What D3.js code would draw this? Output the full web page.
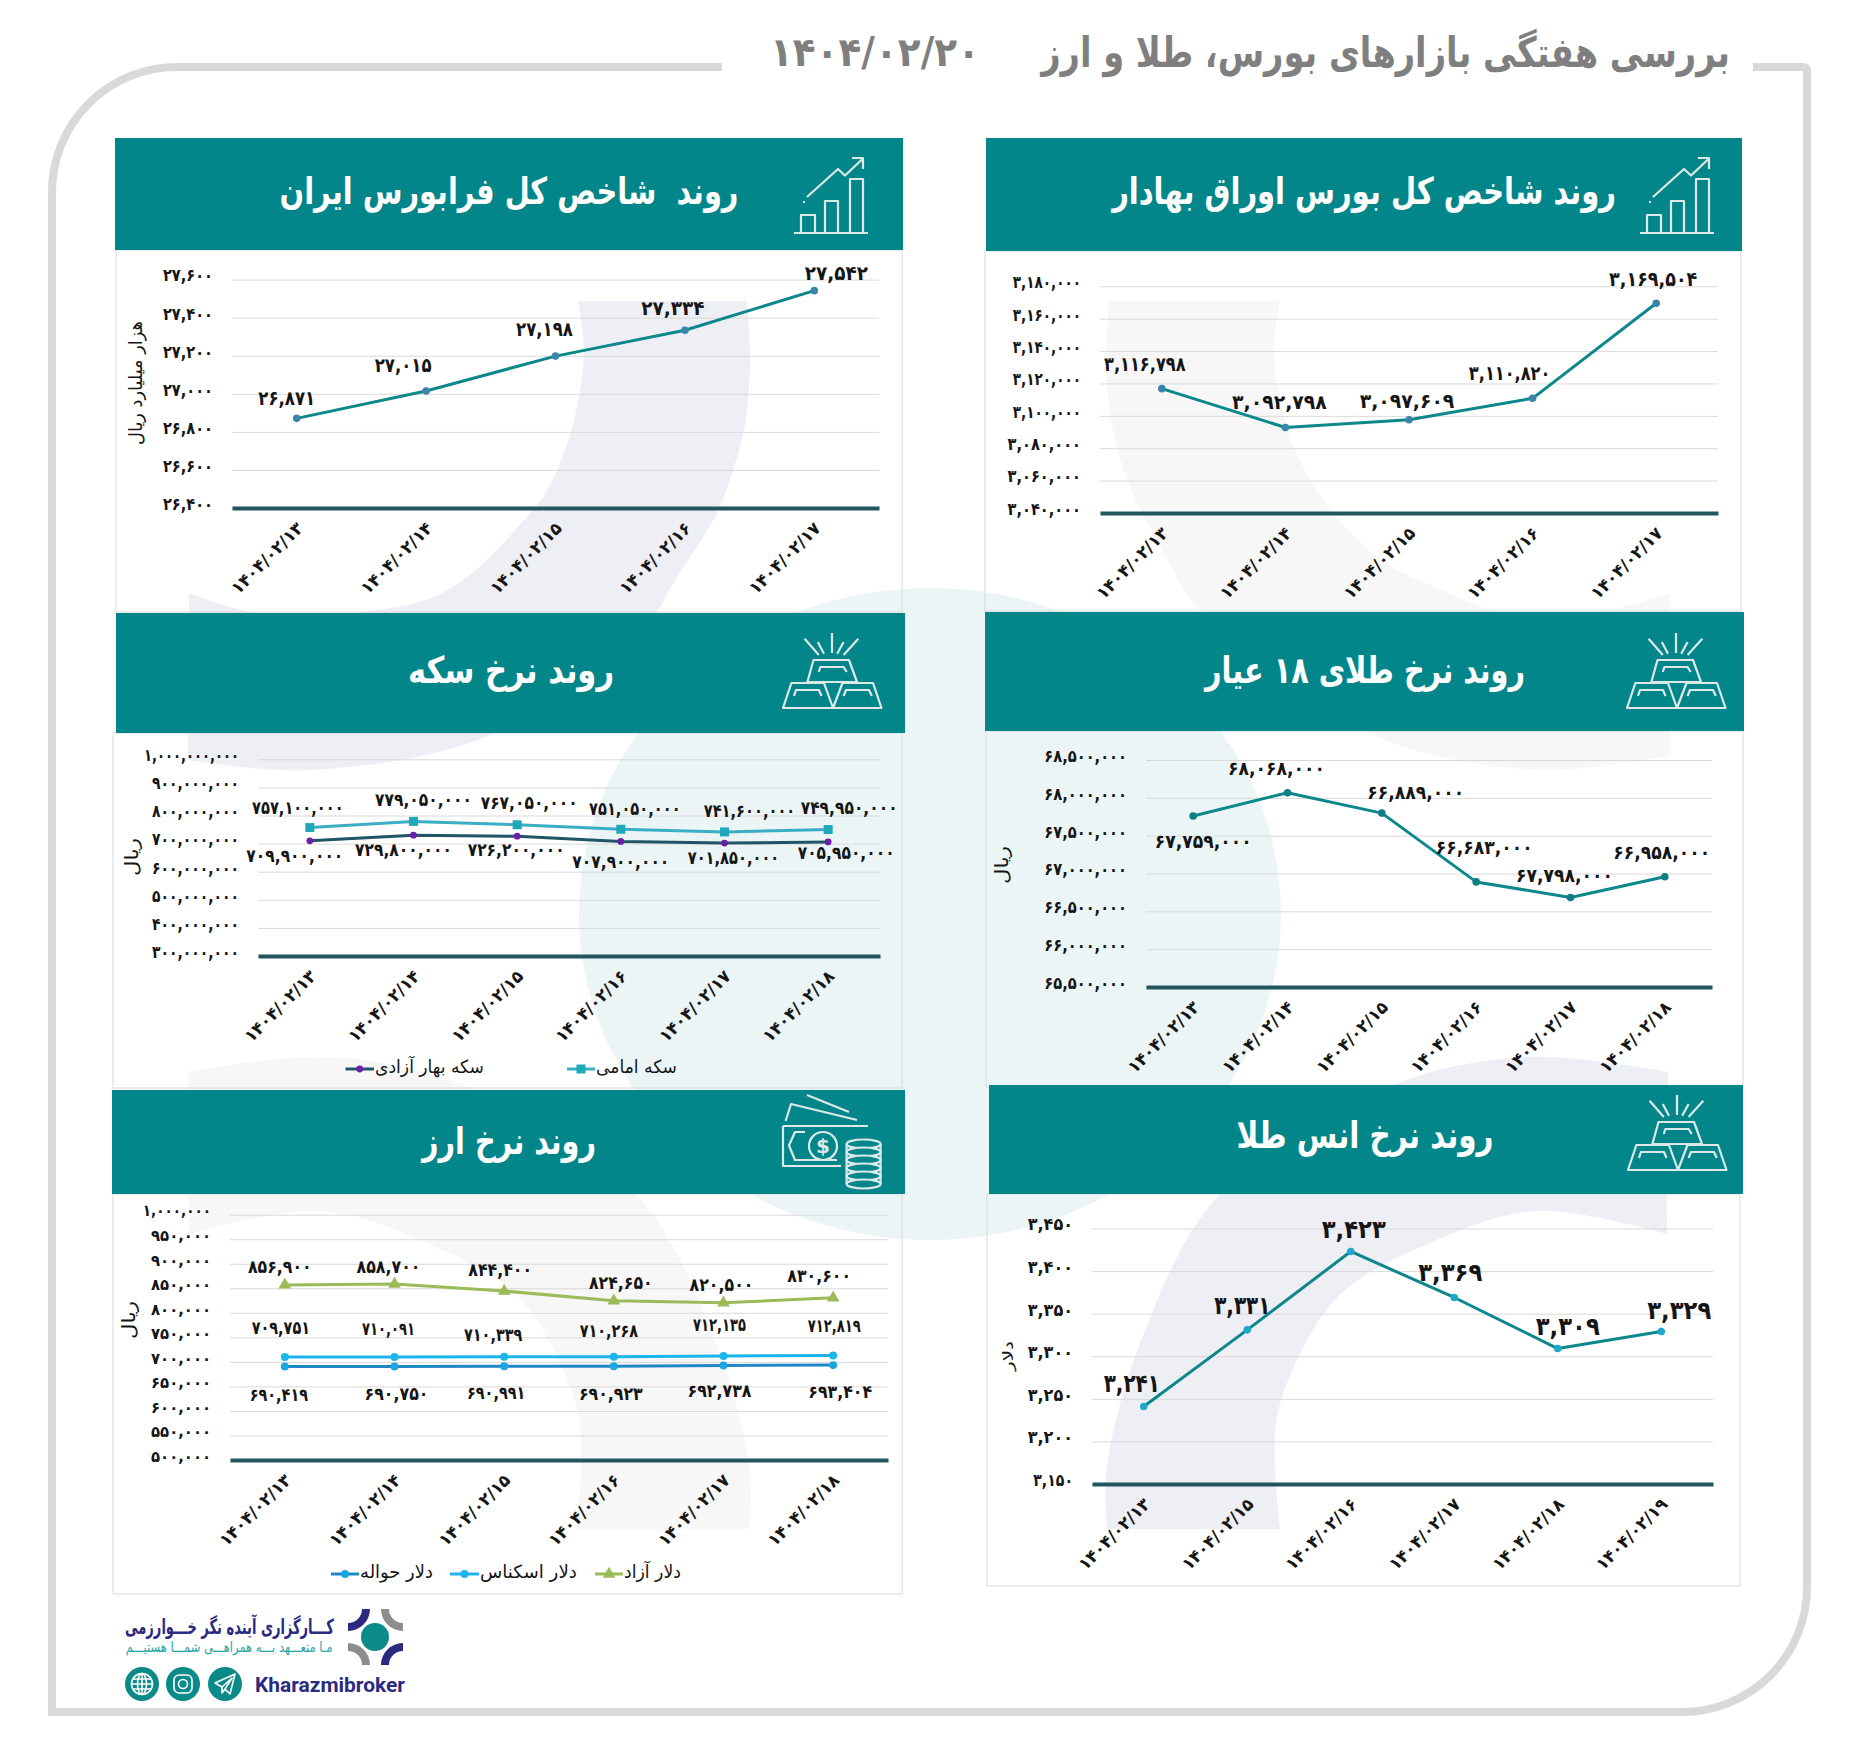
<!DOCTYPE html>
<html lang="fa"><head><meta charset="utf-8">
<script src="https://cdn.jsdelivr.net/npm/d3@7"></script>
<style>
html,body{margin:0;padding:0;background:#fff}
svg{display:block}
text{font-family:"DejaVu Sans",sans-serif;white-space:pre}
.num{direction:ltr;unicode-bidi:bidi-override}
</style></head><body><div id="c"></div>
<script>
// ---------- data ----------
const mainTitle = "بررسی هفتگی بازارهای بورس، طلا و ارز";
const mainDate = "۱۴۰۴/۰۲/۲۰";

const datesFive = ["۱۴۰۴/۰۲/۱۳","۱۴۰۴/۰۲/۱۴","۱۴۰۴/۰۲/۱۵","۱۴۰۴/۰۲/۱۶","۱۴۰۴/۰۲/۱۷"];
const datesSix = ["۱۴۰۴/۰۲/۱۳","۱۴۰۴/۰۲/۱۴","۱۴۰۴/۰۲/۱۵","۱۴۰۴/۰۲/۱۶","۱۴۰۴/۰۲/۱۷","۱۴۰۴/۰۲/۱۸"];
const datesOunce = ["۱۴۰۴/۰۲/۱۳","۱۴۰۴/۰۲/۱۵","۱۴۰۴/۰۲/۱۶","۱۴۰۴/۰۲/۱۷","۱۴۰۴/۰۲/۱۸","۱۴۰۴/۰۲/۱۹"];

const farabourseValues = [26871,27015,27198,27334,27542];
const farabourseTicks = [26400,26600,26800,27000,27200,27400,27600];

const bourseValues = [3116798,3092798,3097609,3110820,3169504];
const bourseTicks = [3040000,3060000,3080000,3100000,3120000,3140000,3160000,3180000];

const emamiValues = [757100000,779050000,767050000,751050000,741600000,749950000];
const baharValues = [709900000,729800000,726200000,707900000,701850000,705950000];
const coinTicks = [300000000,400000000,500000000,600000000,700000000,800000000,900000000,1000000000];

const goldValues = [67759000,68068000,67798000,66889000,66683000,66958000];
const goldPrintedLabels = [67759000,68068000,66889000,66683000,67798000,66958000];
const goldTicks = [65500000,66000000,66500000,67000000,67500000,68000000,68500000];

const azadValues = [856900,858700,844400,824650,820500,830600];
const eskenasValues = [709751,710091,710339,710268,712135,712819];
const havalehValues = [690419,690750,690991,690923,692738,693404];
const fxTicks = [500000,550000,600000,650000,700000,750000,800000,850000,900000,950000,1000000];

const ounceValues = [3241,3331,3423,3369,3309,3329];
const ounceTicks = [3150,3200,3250,3300,3350,3400,3450];

// ---------- label nudges relative to each point (dx,dy) ----------
const nudgeFarabourse=[[-10,-21],[-23,-26],[-11,-27],[-12,-22],[22,-18]];
const nudgeBourse=[[-17,-25],[-6,-26],[-2,-19],[-23,-26],[-3,-25]];
const nudgeEmami=[[-12,-20],[10,-22],[12,-22],[14,-21],[25,-21],[21,-22]];
const nudgeBahar=[[-15,15],[-10,14],[-1,13],[0,20],[9,14],[18,11]];
const nudgeGold=[[10,25],[-11,-25],[34,-21],[8,-35],[-6,-22],[-3,-25]];
const nudgeAzad=[[-5,-18],[-6,-18],[-4,-22],[7,-18],[-2,-18],[-14,-22]];
const nudgeEskenas=[[-4,-30],[-6,-28],[-11,-22],[-5,-26],[-4,-31],[1,-30]];
const nudgeHavaleh=[[-6,28],[2,27],[-8,26],[-3,27],[-4,25],[7,26]];
const nudgeOunce=[[-12,-24],[-5,-25],[3,-23],[-4,-25],[10,-23],[18,-22]];

// ---------- helpers ----------
const W=1852,H=1744;
const svg=d3.select("#c").append("svg").attr("width",W).attr("height",H).attr("viewBox",`0 0 ${W} ${H}`);
const fa=s=>String(s).replace(/\d/g,d=>"۰۱۲۳۴۵۶۷۸۹"[+d]);
const fmt=d3.format(",");
const faNum=v=>fa(fmt(v));
const effLen=s=>s.length-0.55*(s.match(/[,۱]/g)||[]).length;
const TEAL="#02868a", ICON="#dde9e7", INK="#151515";

// squeeze a text horizontally to a target width, keeping it real text
function kFor(node,width){const w=node.getComputedTextLength();return w?width/w:1;}

function txt(parent,s,x,y,size,width,opts={}){
  const t=parent.append("text").attr("dy",".36em")
    .attr("text-anchor","middle").attr("font-size",size)
    .attr("font-weight",opts.weight||"bold").attr("fill",opts.fill||INK).text(s);
  if(opts.num) t.classed("num",true);
  const k=width?kFor(t.node(),width):1;
  t.attr("transform",`translate(${x},${y}) rotate(${opts.rotate||0}) scale(${k},1)`);
  return t;
}

// ---------- watermark ----------
const bg=svg.append("g");
bg.append("ellipse").attr("cx",930).attr("cy",914).attr("rx",351).attr("ry",326).attr("fill","#ecf5f6");
const curve=d3.line().curve(d3.curveCatmullRom.alpha(.5));
function blob(outer,inner,fill){
  const p="M"+curve(outer).slice(1)+"L"+curve(inner).slice(1)+"Z";
  bg.append("path").attr("d",p).attr("fill",fill);
}
blob([[747,301],[750,360],[745,425],[733,470],[717,513],[671,587],[656,612],[495,733],[311,770],[188,760]],
     [[189,593],[248,612],[307,622],[365,612],[426,600],[467,577],[518,527],[549,487],[574,420],[584,350],[578,301]],"#eeeef5");
blob([[1109,301],[1106,370],[1113,430],[1130,487],[1164,553],[1200,610],[1363,731],[1534,770],[1670,755]],
     [[1670,593],[1604,612],[1550,622],[1497,612],[1435,587],[1386,563],[1338,520],[1309,477],[1290,437],[1274,356],[1280,301]],"#f7f7f8");
blob([[1668,1072],[1529,1057],[1393,1085],[1219,1195],[1141,1341],[1107,1466],[1107,1529]],
     [[1280,1529],[1275,1466],[1280,1404],[1336,1299],[1425,1245],[1536,1211],[1667,1234]],"#eeeef5");
blob([[188,1072],[327,1057],[463,1085],[637,1195],[715,1341],[749,1466],[749,1529]],
     [[576,1529],[581,1466],[576,1404],[520,1299],[431,1245],[320,1211],[189,1234]],"#f7f7f8");

// ---------- frame ----------
svg.append("path").attr("fill","none").attr("stroke","#d9d9d9").attr("stroke-width",8)
  .attr("d","M722,67 H177 A125,125 0 0 0 52,192 V1712 H1682 A125,125 0 0 0 1807,1587 V71 Q1807,67 1803,67 H1753");
txt(svg,mainTitle,1385.5,52,42,689,{fill:"#7f7f7f"});
txt(svg,mainDate,875,52,40,210,{fill:"#7f7f7f",num:true});

// ---------- icons ----------
function iconStroke(g){return g.attr("fill","none").attr("stroke",ICON).attr("stroke-width",2.2).attr("stroke-linejoin","round");}
function growthIcon(x,y){
  const g=iconStroke(svg.append("g").attr("transform",`translate(${x},${y})`));
  g.append("path").attr("d","M0,76 H74 M7,76 V58 H21 V76 M31,76 V44 H44 V76 M56,76 V22 H69 V76 M13,40 L44,12 L51,18.5 L69,1.5 M58,1 H69 V12 M9,45 h2");
}
function goldIcon(x,y){
  const g=iconStroke(svg.append("g").attr("transform",`translate(${x},${y})`));
  g.append("path").attr("d","M49,0 V20 M21.6,5.7 L35.8,22 M75.3,5.7 L60.6,22 M34.8,9 L41,20.7 M60.6,9 L54.2,20.7 M30.5,27 H66 L74,49 H24.4 Z M35.8,39 L37.4,34 H60.6 L63.7,39 M8.4,50 H41 L50,75 H0 Z M59.5,50 H90 L98.5,75 H50 Z M11,63 L13,57 H36 L38.5,63 M60.6,63 L63,57 H86 L88.8,63");
}
function moneyIcon(x,y){
  const g=iconStroke(svg.append("g").attr("transform",`translate(${x},${y})`));
  g.append("path").attr("d","M2.6,27 L8,10 L74,26 M24,1 L66,18 M0,32 H85 M0,32 V72 H58 M22,38 H12 L6,51.5 L12,66 H54");
  g.append("circle").attr("cx",40).attr("cy",52).attr("r",14);
  g.append("text").attr("x",40).attr("y",59).attr("text-anchor","middle").attr("font-size",20).attr("font-weight","bold").attr("fill",ICON).attr("stroke","none").text("$");
  d3.range(6).forEach(i=>{
    g.append("ellipse").attr("cx",80.6).attr("cy",50+i*8).attr("rx",17).attr("ry",4.5).attr("fill",TEAL);
  });
  g.append("path").attr("d","M63.6,50 V90 M97.6,50 V90");
}

// ---------- panel ----------
function panel(p){
  const [bx0,by0,bx1,by1]=p.box, [hx0,hy0,hx1,hy1]=p.head;
  svg.append("rect").attr("x",bx0).attr("y",by0).attr("width",bx1-bx0).attr("height",by1-by0)
    .attr("fill","none").attr("stroke","#d9d9d9");
  svg.append("rect").attr("x",hx0).attr("y",hy0).attr("width",hx1-hx0).attr("height",hy1-hy0).attr("fill",TEAL);
  txt(svg,p.title,p.titleX,p.titleY,37,p.titleW,{fill:"#fff"});
  p.icon();
  const [x0,x1,yT,yB]=p.grid;
  const x=d3.scaleBand().domain(p.dates).range([x0,x1]);
  const y=d3.scaleLinear().domain(d3.extent(p.ticks)).range([yB,yT]);
  const cx=(i)=>x(p.dates[i])+x.bandwidth()/2;

  const ya=svg.append("g").attr("transform",`translate(${x0},0)`)
    .call(d3.axisLeft(y).tickValues(p.ticks).tickSize(-(x1-x0)).tickPadding(19).tickFormat(faNum));
  ya.select(".domain").remove();
  ya.selectAll("line").attr("stroke","#d9d9d9").attr("stroke-width",1);
  ya.selectAll("text").classed("num",true).attr("font-size",p.tickSize||17).attr("font-weight","bold")
    .attr("fill",INK).attr("dy",".08em").attr("font-family","DejaVu Sans")
    .each(function(d){
      const s=faNum(d), t=d3.select(this), px=+t.attr("x");
      const k=kFor(this,effLen(s)*p.tickChar);
      t.attr("x",null).attr("transform",`translate(${px},0) scale(${k},1)`);
    });

  const xa=svg.append("g").attr("transform",`translate(0,${yB})`)
    .call(d3.axisBottom(x).tickSize(0));
  xa.select(".domain").attr("stroke","#21565f").attr("stroke-width",4);
  xa.selectAll("text").classed("num",true).attr("font-size",17).attr("font-weight","bold").attr("fill",INK)
    .attr("font-family","DejaVu Sans").attr("text-anchor","end").attr("y",0).attr("dy",".36em")
    .each(function(){
      d3.select(this).attr("transform",`translate(3,17) rotate(-45) scale(${kFor(this,93)},1)`);
    });

  const line=d3.line().x((d,i)=>cx(i)).y(d=>y(d));
  p.series.forEach(s=>{
    svg.append("path").attr("d",line(s.values)).attr("fill","none").attr("stroke",s.color).attr("stroke-width",s.width||3).attr("stroke-linejoin","round");
    svg.append("g").selectAll("path").data(s.values).join("path")
      .attr("d",d3.symbol().type(s.symbol||d3.symbolCircle).size(s.size||45)())
      .attr("transform",(d,i)=>`translate(${cx(i)},${y(d)})`).attr("fill",s.marker);
    const labs=s.labels||s.values;
    labs.forEach((v,i)=>{
      const str=faNum(v);
      txt(svg,str,cx(i)+s.nudge[i][0],y(s.values[i])+s.nudge[i][1],p.valueSize||20,effLen(str)*p.valueChar,{num:true});
    });
  });
  if(p.yTitle) txt(svg,p.yTitle.text,p.yTitle.x,p.yTitle.y,p.yTitle.size||17,p.yTitle.w,{weight:"normal",rotate:-90});
  (p.legend||[]).forEach(l=>{
    const s=p.series[l.i];
    svg.append("line").attr("x1",l.x0).attr("x2",l.x1).attr("y1",p.legendY).attr("y2",p.legendY).attr("stroke",s.color).attr("stroke-width",3);
    svg.append("path").attr("d",d3.symbol().type(s.symbol||d3.symbolCircle).size(s.size||45)())
      .attr("transform",`translate(${(l.x0+l.x1)/2},${p.legendY})`).attr("fill",s.marker);
    txt(svg,l.text,(l.x1+l.x2)/2+1,p.legendY-2,18,l.x2-l.x1,{weight:"normal"});
  });
}

// farabourse
panel({box:[116,250,902,612],head:[115,138,903,250],title:"روند  شاخص کل فرابورس ایران",titleX:509,titleY:191,titleW:459,
  icon:()=>growthIcon(794,157),grid:[232,879,279.6,508],dates:datesFive,ticks:farabourseTicks,tickChar:9.2,valueChar:11.6,
  yTitle:{text:"هزار میلیارد ریال",x:136,y:383,w:124,size:18},
  series:[{values:farabourseValues,color:"#0c878c",marker:"#3a86a8",nudge:nudgeFarabourse}]});
// bourse
panel({box:[985,251,1741,611],head:[986,138,1742,251],title:"روند شاخص کل بورس اوراق بهادار",titleX:1364,titleY:191,titleW:504,
  icon:()=>growthIcon(1640,157),grid:[1100,1718,286.3,513],dates:datesFive,ticks:bourseTicks,tickChar:9.3,valueChar:12,
  series:[{values:bourseValues,color:"#0c878c",marker:"#3a86a8",nudge:nudgeBourse}]});
// coin
panel({box:[113,733,902,1088],head:[116,613,905,733],title:"روند نرخ سکه",titleX:511,titleY:670,titleW:206,
  icon:()=>goldIcon(783,633),grid:[258,880,759.3,956],dates:datesSix,ticks:coinTicks,tickChar:8.8,valueChar:9.8,valueSize:18,
  yTitle:{text:"ریال",x:132,y:857,w:38,size:18},
  series:[{values:emamiValues,color:"#3aaec4",marker:"#1fa9b8",symbol:d3.symbolSquare,size:81,nudge:nudgeEmami},
          {values:baharValues,color:"#1f5566",marker:"#6a1fa8",size:36,nudge:nudgeBahar}],
  legendY:1069,legend:[{i:1,x0:345.5,x1:374,x2:483,text:"سکه بهار آزادی"},{i:0,x0:567,x1:595,x2:676,text:"سکه امامی"}]});
// gold 18
panel({box:[986,731,1743,1087],head:[985,612,1744,731],title:"روند نرخ طلای ۱۸ عیار",titleX:1365,titleY:670,titleW:320,
  icon:()=>goldIcon(1627,633),grid:[1146,1712,760,987],dates:datesSix,ticks:goldTicks,tickChar:9.3,valueChar:10.9,valueSize:19,
  yTitle:{text:"ریال",x:1002,y:865,w:38,size:18},
  series:[{values:goldValues,labels:goldPrintedLabels,color:"#0c878c",marker:"#0b7f83",nudge:nudgeGold}]});
// fx
panel({box:[113,1194,902,1594],head:[112,1090,905,1194],title:"روند نرخ ارز",titleX:509,titleY:1141,titleW:174,
  icon:()=>moneyIcon(783,1094),grid:[230,888,1214.7,1460],dates:datesSix,ticks:fxTicks,tickChar:9.3,tickSize:16,valueChar:9.9,valueSize:18,
  yTitle:{text:"ریال",x:129,y:1320,w:38,size:18},
  series:[{values:azadValues,color:"#9bbb59",marker:"#9bbb59",symbol:d3.symbolTriangle,size:70,nudge:nudgeAzad},
          {values:eskenasValues,color:"#1cb5ec",marker:"#1cb5ec",size:50,nudge:nudgeEskenas},
          {values:havalehValues,color:"#1e88c7",marker:"#1ca6e0",size:50,nudge:nudgeHavaleh}],
  legendY:1574,legend:[{i:2,x0:331,x1:359,x2:432,text:"دلار حواله"},{i:1,x0:450,x1:479,x2:576,text:"دلار اسکناس"},{i:0,x0:595,x1:623,x2:680,text:"دلار آزاد"}]});
// ounce
panel({box:[987,1194,1740,1586],head:[989,1085,1743,1194],title:"روند نرخ انس طلا",titleX:1365,titleY:1135,titleW:257,
  icon:()=>goldIcon(1628,1095),grid:[1092,1713,1228.5,1484],dates:datesOunce,ticks:ounceTicks,tickChar:10.2,valueChar:14.4,valueSize:25,
  yTitle:{text:"دلار",x:1008,y:1356,w:30,size:15},
  series:[{values:ounceValues,color:"#0c878c",marker:"#1fa8c9",nudge:nudgeOunce}]});

// ---------- logo ----------
const NAVY="#2b2a7f", LOGOG="#8d8d8d";
const logo=svg.append("g");
logo.append("circle").attr("cx",375).attr("cy",1637).attr("r",14).attr("fill","#0b8a8a");
[[348,1609,Math.PI/2,NAVY],[403,1609,Math.PI,LOGOG],[348,1665,0,LOGOG],[403,1665,Math.PI*1.5,NAVY]].forEach(([ax,ay,a0,c])=>{
  logo.append("path").attr("d",d3.arc().innerRadius(14).outerRadius(22).startAngle(a0).endAngle(a0+Math.PI/2)())
    .attr("transform",`translate(${ax},${ay})`).attr("fill",c);
});
txt(logo,"کـــارگزاری آینده نگر خـــوارزمی",229.5,1626,21,209,{fill:NAVY});
txt(logo,"مـا متعـــهد بـــه همراهـــی شمـــا هستیـــم",229,1647,14,207,{fill:"#1fa3a3",weight:"normal"});
[142,183,225].forEach((cx)=>{
  logo.append("ellipse").attr("cx",cx).attr("cy",1684).attr("rx",17).attr("ry",17).attr("fill","#0b8a8a");
});
const ic=logo.append("g").attr("fill","none").attr("stroke","#fff").attr("stroke-width",1.6);
ic.append("circle").attr("cx",142).attr("cy",1684).attr("r",10.5);
ic.append("ellipse").attr("cx",142).attr("cy",1684).attr("rx",4.5).attr("ry",10.5);
ic.append("path").attr("d","M131.5,1684 H152.5 M133,1679 H151 M133,1689 H151 M142,1673.5 V1694.5");
ic.append("rect").attr("x",174).attr("y",1675).attr("width",18).attr("height",18).attr("rx",5);
ic.append("circle").attr("cx",183).attr("cy",1684).attr("r",4.5);
ic.append("path").attr("d","M235,1674 L215,1683 L222,1687 L232,1678 L225,1689 L230,1694 Z M222,1687 V1693 L225,1689").attr("stroke-linejoin","round");
const brand=logo.append("text").attr("dy",".36em").attr("text-anchor","middle")
  .attr("font-size",21).attr("font-weight","bold").attr("fill",NAVY)
  .style("font-family","Roboto").text("Kharazmibroker");
brand.attr("transform",`translate(330,1684) scale(${kFor(brand.node(),150)},1)`);
</script></body></html>
